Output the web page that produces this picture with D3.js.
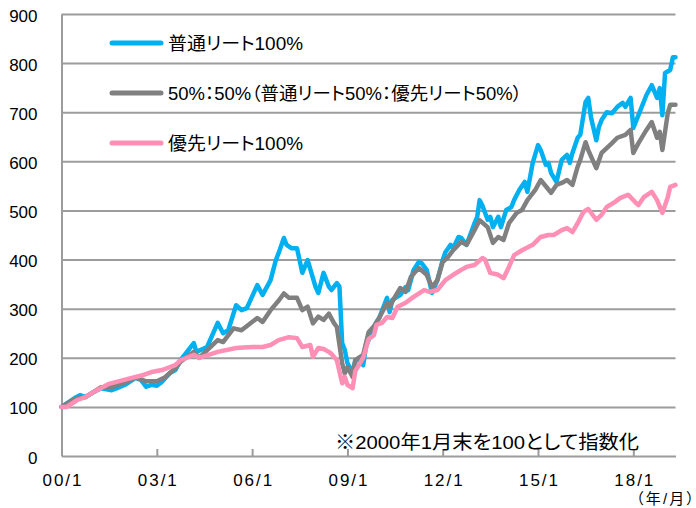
<!DOCTYPE html>
<html><head><meta charset="utf-8">
<script src="https://cdn.jsdelivr.net/npm/d3@7"></script>
<style>
html,body{margin:0;padding:0;background:#fff;}
svg{display:block;}
text{font-family:"Liberation Sans","Noto Sans CJK JP",sans-serif;fill:#000;font-feature-settings:"palt";}
</style></head><body>
<svg id="chart" width="696" height="508"></svg>
<script>
const seriesNames = ["普通リート100%", "50%：50%（普通リート50%：優先リート50%）", "優先リート100%"];
const seriesColors = ["#00B0F0", "#808080", "#FF8FB4"];
const yTicks = [0, 100, 200, 300, 400, 500, 600, 700, 800, 900];
const xTickDates = ["2000-01", "2003-01", "2006-01", "2009-01", "2012-01", "2015-01", "2018-01"];
const xTickLabels = ["00/1", "03/1", "06/1", "09/1", "12/1", "15/1", "18/1"];
const noteText = "※2000年1月末を100として指数化";
const unitText = "（年/月）";

const commonDates = ["2000-01","2000-06","2000-08","2000-10","2001-01","2001-04","2001-08","2001-10","2002-01","2002-05","2002-07","2002-09","2002-11","2003-01","2003-03","2003-06","2003-08","2003-10","2004-03","2004-04","2004-08","2004-12","2005-02","2005-04","2005-07","2005-09","2005-11","2006-03","2006-05","2006-08","2006-10","2006-11","2007-01","2007-02","2007-04","2007-06","2007-08","2007-10","2008-01","2008-02","2008-04","2008-06","2008-07","2008-09","2008-10","2008-11","2008-12","2009-01","2009-03","2009-04","2009-06","2009-07","2009-08","2009-10","2009-12","2010-01","2010-04","2010-05","2010-06","2010-09","2010-11","2010-12","2011-02","2011-04","2011-05","2011-07","2011-09","2011-11","2012-01","2012-02","2012-04","2012-05","2012-07","2012-08","2012-10","2013-01","2013-02","2013-03","2013-04","2013-06","2013-07","2013-08","2013-10","2013-11","2014-01","2014-03","2014-04","2014-06","2014-08","2014-09","2014-11","2015-01","2015-02","2015-04","2015-05","2015-06","2015-08","2015-10","2015-12","2016-01","2016-02","2016-04","2016-05","2016-07","2016-08","2016-09","2016-11","2016-12","2017-01","2017-03","2017-05","2017-07","2017-09","2017-10","2017-12","2018-01","2018-03","2018-06","2018-08","2018-10","2018-11","2018-12","2019-01","2019-03","2019-04","2019-05"];
const commonValues = [100,118,124,120,130,138,134,138,145,159,155,141,145,143,151,169,175,195,230,212,222,271,250,256,307,297,301,348,328,358,399,413,444,430,423,423,373,399,344,332,373,345,338,352,345,230,216,189,170,195,195,185,222,250,273,281,322,293,318,328,344,338,379,395,393,379,332,358,399,415,430,423,446,444,430,474,487,521,510,481,487,466,487,466,501,507,521,542,558,538,597,633,623,593,597,576,558,603,613,597,617,648,654,721,729,690,643,670,684,700,698,711,719,711,729,668,694,735,755,729,749,694,780,786,812,812];

const mixDates = ["2000-01","2000-06","2000-10","2001-01","2001-04","2001-08","2002-01","2002-05","2002-09","2003-01","2003-04","2003-08","2003-10","2004-03","2004-05","2004-12","2005-02","2005-06","2005-09","2006-03","2006-05","2006-08","2006-11","2007-01","2007-03","2007-06","2007-08","2007-10","2007-12","2008-02","2008-04","2008-06","2008-08","2008-09","2008-11","2008-12","2009-01","2009-03","2009-04","2009-07","2009-09","2009-11","2010-01","2010-04","2010-05","2010-07","2010-09","2010-11","2011-01","2011-04","2011-07","2011-09","2011-11","2012-01","2012-03","2012-05","2012-08","2012-10","2013-01","2013-03","2013-06","2013-08","2013-10","2013-12","2014-02","2014-05","2014-07","2014-09","2014-12","2015-02","2015-03","2015-06","2015-08","2015-10","2015-12","2016-02","2016-04","2016-05","2016-07","2016-08","2016-11","2017-01","2017-03","2017-05","2017-07","2017-10","2017-12","2018-01","2018-03","2018-06","2018-08","2018-10","2018-11","2018-12","2019-02","2019-03","2019-05"];
const mixValues = [100,116,120,130,140,140,150,160,152,152,160,178,192,212,200,236,232,260,256,281,273,297,316,331,322,322,297,304,270,284,277,290,270,263,189,168,181,161,195,206,252,264,281,312,304,324,342,334,365,383,369,344,358,395,405,419,436,430,460,480,466,434,446,440,474,495,501,521,542,562,556,536,552,556,562,552,589,603,639,623,586,617,627,637,648,654,664,617,637,664,680,648,660,623,698,715,715];

const prefDates = ["2000-01","2000-03","2000-07","2000-10","2001-01","2001-07","2002-02","2002-08","2002-11","2003-03","2003-08","2003-10","2004-03","2004-05","2004-12","2005-07","2006-01","2006-05","2006-08","2006-11","2007-03","2007-06","2007-08","2007-11","2007-12","2008-02","2008-04","2008-06","2008-07","2008-09","2008-11","2008-12","2009-01","2009-03","2009-04","2009-07","2009-09","2009-11","2009-12","2010-02","2010-04","2010-06","2010-08","2010-11","2011-02","2011-06","2011-08","2011-11","2012-02","2012-05","2012-08","2012-10","2013-01","2013-04","2013-05","2013-07","2013-10","2013-12","2014-02","2014-04","2014-07","2014-11","2015-02","2015-05","2015-07","2015-10","2015-12","2016-02","2016-04","2016-06","2016-07","2016-08","2016-11","2017-01","2017-03","2017-06","2017-08","2017-11","2017-12","2018-02","2018-03","2018-05","2018-08","2018-10","2018-12","2019-02","2019-03","2019-05"];
const prefValues = [100,100,114,120,130,147,157,165,171,175,185,195,206,200,212,220,222,222,226,236,242,240,222,226,202,220,218,212,208,195,148,161,145,138,173,200,238,246,267,271,283,281,304,312,324,338,334,338,358,369,379,385,389,403,400,373,369,362,385,409,419,430,446,450,450,460,464,456,474,495,500,503,481,491,507,517,525,532,527,515,511,527,538,521,495,527,548,552];

const parse = d3.timeParse("%Y-%m");
const svg = d3.select("#chart");
const x = d3.scaleTime().domain([parse("2000-01"), parse("2019-05")]).range([61.5, 675.5]);
const y = d3.scaleLinear().domain([0, 900]).range([456, 14]);
const gridColor = "#9c9c9c";

// gridlines
const grid = svg.append("g").attr("transform", "translate(61.5,0)")
  .call(d3.axisLeft(y).tickValues(yTicks.slice(1)).tickSize(-(675.5 - 61.5)).tickFormat(""));
grid.select(".domain").remove();
grid.selectAll("line").attr("stroke", gridColor).attr("stroke-width", 2);

// y axis labels
const yAx = svg.append("g").attr("transform", "translate(61.5,0)")
  .call(d3.axisLeft(y).tickValues(yTicks).tickSize(0).tickPadding(24));
yAx.select(".domain").attr("stroke", gridColor).attr("stroke-width", 2);
yAx.selectAll("text").attr("font-size", 17).attr("dy", null).attr("dominant-baseline", "central")
  .attr("transform", "translate(0,1.5)");

// x axis
const xAx = svg.append("g").attr("transform", "translate(0,456)")
  .call(d3.axisBottom(x).tickValues(xTickDates.map(parse)).tickSizeInner(-7).tickSizeOuter(0)
    .tickFormat((d, i) => xTickLabels[i]));
xAx.select(".domain").attr("stroke", gridColor).attr("stroke-width", 2);
xAx.selectAll("line").attr("stroke", gridColor).attr("stroke-width", 2);
xAx.selectAll("text").attr("font-size", 17).attr("y", 30).attr("dy", null)
  .attr("textLength", 39).attr("lengthAdjust", "spacing");

// lines
const line = d3.line().x(d => x(d.date)).y(d => y(d.value));
const series = [
  commonDates.map((d, i) => ({date: parse(d), value: commonValues[i]})),
  mixDates.map((d, i) => ({date: parse(d), value: mixValues[i]})),
  prefDates.map((d, i) => ({date: parse(d), value: prefValues[i]}))
];
series.forEach((s, i) => {
  svg.append("path").datum(s).attr("d", line).attr("fill", "none")
    .attr("stroke", seriesColors[i]).attr("stroke-width", 4.5)
    .attr("stroke-linejoin", "round").attr("stroke-linecap", "round");
});

// legend
const legendY = [43, 93, 143];
const legendW = [135, 354, 135];
seriesNames.forEach((n, i) => {
  svg.append("line").attr("x1", 112).attr("x2", 161).attr("y1", legendY[i]).attr("y2", legendY[i])
    .attr("stroke", seriesColors[i]).attr("stroke-width", 5).attr("stroke-linecap", "round");
  svg.append("text").attr("x", 168).attr("y", legendY[i] + 1).attr("dominant-baseline", "central")
    .attr("font-size", 18).attr("textLength", legendW[i]).attr("lengthAdjust", "spacingAndGlyphs").text(n);
});

// note
svg.append("text").attr("x", 335).attr("y", 442).attr("dominant-baseline", "central")
  .attr("font-size", 19).attr("textLength", 304).attr("lengthAdjust", "spacingAndGlyphs").text(noteText);
svg.append("text").attr("x", 694).attr("y", 498).attr("dominant-baseline", "central").attr("text-anchor", "end")
  .attr("font-size", 15).attr("textLength", 58).attr("lengthAdjust", "spacing").text(unitText);
</script>
</body></html>
